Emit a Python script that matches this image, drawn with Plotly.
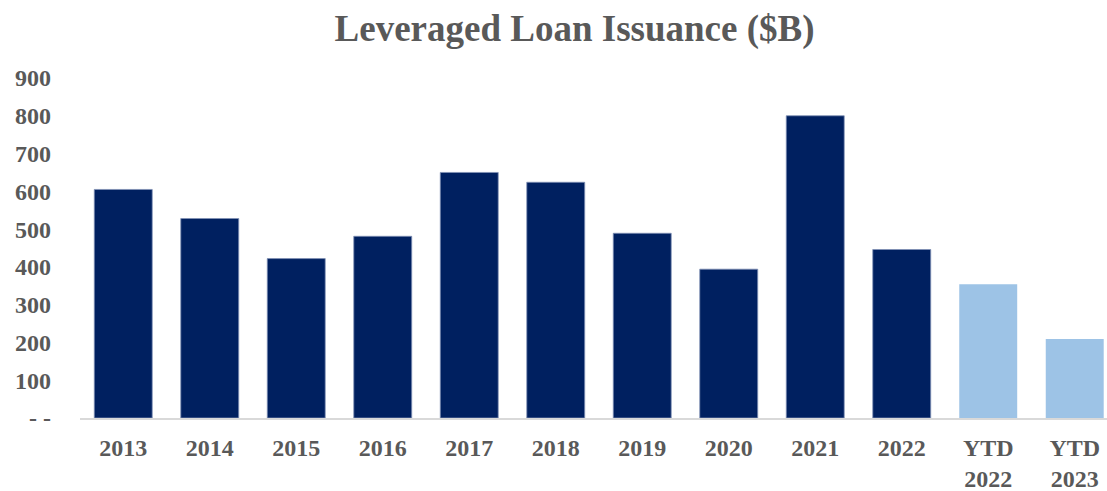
import plotly.graph_objects as go

# Annual leveraged loan issuance, $ billions
categories = ["2013", "2014", "2015", "2016", "2017", "2018", "2019",
              "2020", "2021", "2022", "YTD<br>2022", "YTD<br>2023"]
issuance = [605, 528, 422, 481, 650, 624, 489, 394, 800, 446, 354, 209]

full_year_color = "#002060"
ytd_color = "#9DC3E6"
bar_colors = [ytd_color if c.startswith("YTD") else full_year_color for c in categories]
edge_colors = ["rgba(0,0,0,0)" if c.startswith("YTD") else "#8091B5" for c in categories]

y_ticks = [0, 100, 200, 300, 400, 500, 600, 700, 800, 900]
y_tick_labels = ["- -", "100", "200", "300", "400", "500", "600", "700", "800", "900"]

text_gray = "#595959"
font_family = "Liberation Serif, Times New Roman, serif"

fig = go.Figure(
    go.Bar(
        x=categories,
        y=issuance,
        marker=dict(color=bar_colors, line=dict(color=edge_colors, width=0.8)),
        width=0.67,
    )
)

fig.update_layout(
    width=1107,
    height=491,
    margin=dict(l=80, r=0, t=78, b=73, autoexpand=False),
    paper_bgcolor="white",
    plot_bgcolor="white",
    showlegend=False,
    title=dict(
        text="<b>Leveraged Loan Issuance ($B)</b>",
        x=0.519,
        xref="container",
        xanchor="center",
        y=0.943,
        yanchor="middle",
        font=dict(family=font_family, size=37, color=text_gray),
    ),
    font=dict(family=font_family, color=text_gray),
)

fig.update_xaxes(
    type="category",
    range=[-0.5, 11.373],
    automargin=False,
    showline=True,
    linecolor="#D9D9D9",
    linewidth=1.5,
    showgrid=False,
    ticks="",
    tickangle=0,
    ticklabelstandoff=7,
    tickfont=dict(family=font_family, size=24, color=text_gray, weight="bold"),
)

fig.update_yaxes(
    range=[0, 900],
    automargin=False,
    tickvals=y_ticks,
    ticktext=y_tick_labels,
    showgrid=False,
    zeroline=False,
    showline=False,
    ticks="",
    ticklabelstandoff=28,
    tickfont=dict(family=font_family, size=24, color=text_gray, weight="bold"),
)

fig.write_html("out.html")
